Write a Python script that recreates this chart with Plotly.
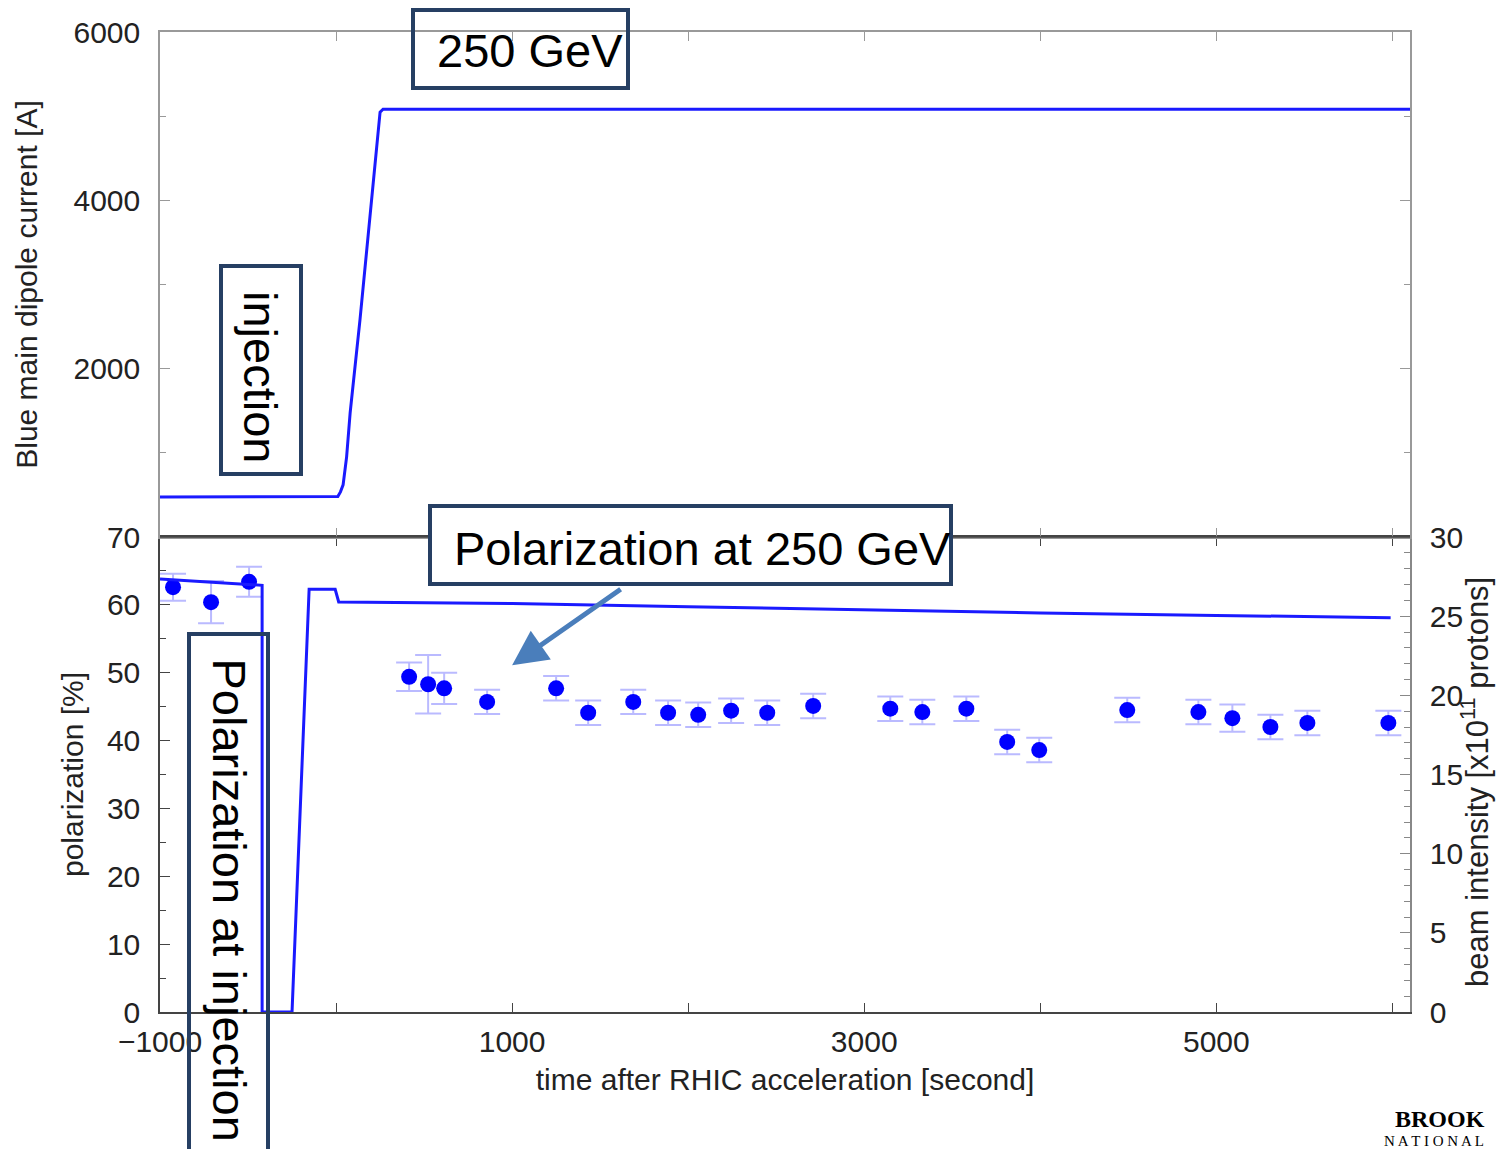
import plotly.graph_objects as go

# ---------------- data ----------------
# top panel: Blue main dipole current [A]
t_current = [-1000, 10, 25, 40, 60, 80, 136, 250, 267, 6100]
i_current = [476, 480, 536, 620, 952, 1476, 2583, 5048, 5083, 5083]

# bottom panel: beam intensity [x10^11 protons]
t_intensity = [-1000, -420, -420, -250, -153, -5, 15, 1000, 2000, 3000, 4000, 5000, 5990]
v_intensity = [27.35, 26.95, 0, 0, 26.7, 26.7, 25.9, 25.8, 25.6, 25.4, 25.2, 25.05, 24.9]

# bottom panel: polarization [%]
t_pol = [-926, -710, -494, 415, 523, 614, 858, 1250, 1432, 1688, 1886, 2057, 2244,
         2449, 2710, 3148, 3330, 3580, 3812, 3994, 4494, 4898, 5091, 5307, 5517, 5977]
p_pol = [62.6, 60.4, 63.4, 49.4, 48.3, 47.7, 45.7, 47.7, 44.1, 45.7, 44.1, 43.8, 44.4,
         44.1, 45.1, 44.7, 44.2, 44.7, 39.8, 38.6, 44.5, 44.2, 43.3, 42.0, 42.6, 42.6]
p_err = [2.0, 3.1, 2.2, 2.1, 4.3, 2.3, 1.8, 1.8, 1.8, 1.8, 1.8, 1.8, 1.8,
         1.8, 1.8, 1.8, 1.8, 1.8, 1.8, 1.8, 1.8, 1.8, 2.0, 1.8, 1.8, 1.8]

x_tickvals = [-1000, 0, 1000, 2000, 3000, 4000, 5000, 6000]
x_ticktext = ["\u22121000", "", "1000", "", "3000", "", "5000", ""]

FONT = "Liberation Sans, Arial, sans-serif"
LINE_BLUE = "#1a1aff"
BOX = "#263f63"

fig = go.Figure()

fig.add_trace(go.Scatter(x=t_current, y=i_current, mode="lines", xaxis="x2", yaxis="y2",
                         line=dict(color=LINE_BLUE, width=3), showlegend=False))
fig.add_trace(go.Scatter(x=t_intensity, y=v_intensity, mode="lines", xaxis="x", yaxis="y3",
                         line=dict(color=LINE_BLUE, width=3), showlegend=False))
fig.add_trace(go.Scatter(x=t_pol, y=p_pol, mode="markers", xaxis="x", yaxis="y",
                         marker=dict(color="#0000ff", size=16, line=dict(width=0)),
                         error_y=dict(type="data", array=p_err, visible=True,
                                      color="rgba(90,90,255,0.42)", thickness=2, width=13),
                         showlegend=False))

tickfont = dict(family=FONT, size=30, color="#222")
titlefont = dict(family=FONT, size=30, color="#222")
split = 475 / 980

# page body has an 8px margin, so the figure is shrunk by 8px and margins shifted
fig.update_layout(
    width=1497, height=1141,
    margin=dict(l=152, r=95, t=24, b=137, autoexpand=False),
    paper_bgcolor="white", plot_bgcolor="white",
    font=dict(family=FONT),
    xaxis=dict(domain=[0, 1], anchor="y", range=[-1000, 6100], automargin=False,
               tickmode="array", tickvals=x_tickvals, ticktext=x_ticktext,
               ticks="inside", ticklen=9, tickcolor="#444", showline=True, linecolor="#444",
               linewidth=1.5, mirror="ticks", showgrid=False, zeroline=False,
               tickfont=tickfont, ticklabelstandoff=2,
               title=dict(text="time after RHIC acceleration [second]", font=titlefont, standoff=12)),
    xaxis2=dict(domain=[0, 1], anchor="y2", matches="x", range=[-1000, 6100], automargin=False,
                tickmode="array", tickvals=x_tickvals, showticklabels=False,
                ticks="inside", ticklen=9, tickcolor="#999", showline=True, linecolor="#999",
                linewidth=1.5, mirror="ticks", showgrid=False, zeroline=False),
    yaxis=dict(domain=[0, split], anchor="x", range=[0, 70], tickmode="linear", tick0=0, dtick=10,
               automargin=False,
               ticks="inside", ticklen=10, tickcolor="#444", showline=True, linecolor="#444",
               linewidth=1.5, showgrid=False, zeroline=False, tickfont=tickfont, ticklabelstandoff=12,
               minor=dict(dtick=5, ticks="inside", ticklen=6, tickcolor="#444", showgrid=False),
               title=dict(text="polarization [%]", font=titlefont, standoff=14)),
    yaxis3=dict(overlaying="y", side="right", anchor="x", range=[0, 30], tickmode="linear",
                automargin=False,
                tick0=0, dtick=5, ticks="inside", ticklen=10, tickcolor="#888", showline=True,
                linecolor="#888", linewidth=1.5, showgrid=False, zeroline=False,
                tickfont=tickfont, ticklabelstandoff=12,
                minor=dict(dtick=1, ticks="inside", ticklen=6, tickcolor="#888", showgrid=False)),
    yaxis2=dict(domain=[split, 1], anchor="x2", range=[0, 6000], tickmode="array",
                automargin=False,
                tickvals=[2000, 4000, 6000], ticks="inside", ticklen=10, tickcolor="#999",
                showline=True, linecolor="#999", linewidth=1.5, mirror="ticks", showgrid=False,
                zeroline=False, tickfont=tickfont, ticklabelstandoff=12,
                minor=dict(tickvals=[1000, 3000, 5000], ticks="inside", ticklen=6, tickcolor="#999",
                           showgrid=False),
                title=dict(text="Blue main dipole current [A]", font=titlefont, standoff=27)),
)

def px(x):
    return (x - 160) / 1250

def py(y):
    return (1012 - y) / 980

shapes = [
    dict(type="line", xref="paper", yref="paper", x0=0, x1=1, y0=split, y1=split,
         line=dict(color="#444", width=1.5), layer="above"),
    dict(type="rect", xref="paper", yref="paper", x0=px(413), x1=px(628), y0=py(88), y1=py(10),
         line=dict(color=BOX, width=4), fillcolor="rgba(0,0,0,0)", layer="above"),
    dict(type="rect", xref="paper", yref="paper", x0=px(221), x1=px(301), y0=py(474), y1=py(266),
         line=dict(color=BOX, width=4), fillcolor="white", layer="above"),
    dict(type="rect", xref="paper", yref="paper", x0=px(430), x1=px(951), y0=py(584), y1=py(506),
         line=dict(color=BOX, width=4), fillcolor="white", layer="above"),
    dict(type="rect", xref="paper", yref="paper", x0=px(189), x1=px(268), y0=py(1160), y1=py(634),
         line=dict(color=BOX, width=4), fillcolor="rgba(255,255,255,0)", layer="above"),
]
fig.update_layout(shapes=shapes)

ann_font = dict(family=FONT, size=47, color="black")
annotations = [
    dict(text="250 GeV", xref="paper", yref="paper", x=px(435), y=py(50),
         xanchor="left", yanchor="middle", showarrow=False, font=ann_font),
    dict(text="injection", xref="paper", yref="paper", x=px(261), y=py(377),
         xanchor="center", yanchor="middle", textangle=90, showarrow=False, font=ann_font),
    dict(text="Polarization at 250 GeV", xref="paper", yref="paper", x=px(452), y=py(548),
         xanchor="left", yanchor="middle", showarrow=False, font=ann_font),
    dict(text="Polarization at injection", xref="paper", yref="paper", x=px(229), y=py(656),
         xanchor="center", yanchor="top", textangle=90, showarrow=False, font=ann_font),
    dict(text="", x=1000, y=51.1, xref="x", yref="y", ax=110, ay=-77, showarrow=True,
         arrowhead=2, arrowsize=1.4, arrowwidth=5, arrowcolor="#4a7ebb"),
    dict(text="beam intensity [x10<sup>11</sup> protons]", xref="paper", yref="paper",
         x=px(1475), y=py(782), xanchor="center", yanchor="middle", textangle=-90,
         showarrow=False, font=dict(family=FONT, size=31, color="#222")),
    dict(text="<b>BROOK</b>", xref="paper", yref="paper", x=px(1393), y=py(1134),
         xanchor="left", yanchor="bottom", showarrow=False,
         font=dict(family="Liberation Serif, serif", size=24, color="black")),
    dict(text="N A T I O N A L", xref="paper", yref="paper", x=px(1382), y=py(1151),
         xanchor="left", yanchor="bottom", showarrow=False,
         font=dict(family="Liberation Serif, serif", size=15, color="black")),
]
fig.update_layout(annotations=annotations)

fig.write_html("out.html")
